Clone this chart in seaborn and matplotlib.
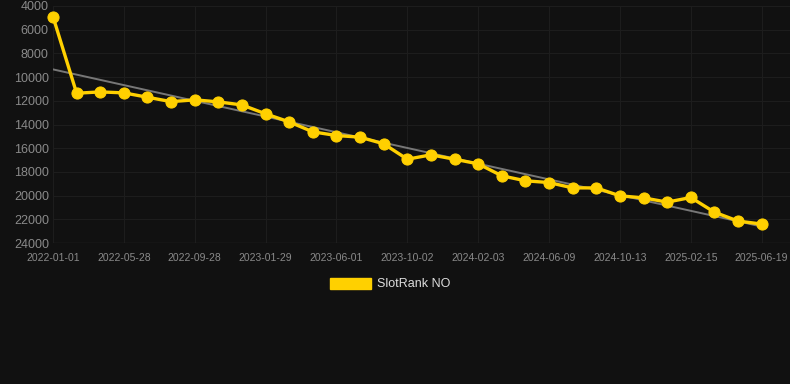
import numpy as np
import pandas as pd
import seaborn as sns
import matplotlib.pyplot as plt
from matplotlib.patches import Patch

# ---------------------- Data ------------------------
dates = [
    "2022-01-01", "2022-02-19", "2022-04-09", "2022-05-28", "2022-07-08",
    "2022-08-18", "2022-09-28", "2022-11-07", "2022-12-19", "2023-01-29",
    "2023-03-12", "2023-04-21", "2023-06-01", "2023-07-12", "2023-08-22",
    "2023-10-02", "2023-11-12", "2023-12-23", "2024-02-03", "2024-03-16",
    "2024-04-27", "2024-06-09", "2024-07-20", "2024-08-31", "2024-10-13",
    "2024-11-23", "2025-01-04", "2025-02-15", "2025-03-28", "2025-05-08",
    "2025-06-19",
]
rank = [
    4900, 11360, 11250, 11330, 11700, 12070, 11920, 12090, 12350, 13100,
    13780, 14620, 14930, 15070, 15630, 16930, 16560, 16930, 17320, 18330,
    18750, 18900, 19350, 19350, 20020, 20190, 20550, 20160, 21400, 22150,
    22400,
]
series_name = "SlotRank NO"
y_ticks = [4000, 6000, 8000, 10000, 12000, 14000, 16000, 18000, 20000, 22000, 24000]

df = pd.DataFrame({"date": dates, "rank": rank})
df["pos"] = np.arange(len(df))

# ---------------------- Style ------------------------
BG = "#111111"
YELLOW = "#FFD000"
sns.set_style("dark")
plt.rcParams["font.family"] = ["Liberation Sans", "DejaVu Sans"]

fig = plt.figure(figsize=(7.9, 3.84), dpi=100, facecolor=BG)
ax = fig.add_axes([53 / 790, (384 - 243) / 384, (790 - 53) / 790, (243 - 6) / 384])
ax.set_facecolor(BG)

# trend line
sns.regplot(data=df, x="pos", y="rank", ax=ax, scatter=False, ci=None,
            line_kws={"color": "#777777", "lw": 1.4, "zorder": 2})

sns.lineplot(data=df, x="pos", y="rank", ax=ax, color=YELLOW, lw=2.4,
             marker="o", markersize=8, markeredgecolor=YELLOW,
             zorder=3, clip_on=False)

ax.set_ylim(24000, 4000)
ax.set_xlim(0, 31.2)
ax.set_yticks(y_ticks)
ax.set_yticklabels([str(v) for v in y_ticks])
ax.set_xticks(df["pos"][::3])
ax.set_xticklabels(df["date"][::3])

ax.grid(True, color="#1d1d1d", lw=0.8)
for s in ax.spines.values():
    s.set_visible(False)
ax.axhline(24000, color="#2a2a2a", lw=1, zorder=1)

ax.tick_params(axis="y", colors="#8a8a8a", labelsize=9, length=0, pad=3)
ax.tick_params(axis="x", colors="#8a8a8a", labelsize=7.5, length=4,
               color="#2a2a2a", pad=3)
ax.set_xlabel("")
ax.set_ylabel("")

handle = Patch(facecolor=YELLOW, edgecolor=YELLOW)
leg = fig.legend([handle], [series_name], loc="center",
                 bbox_to_anchor=(390 / 790, 1 - 284 / 384),
                 frameon=False, fontsize=9, handlelength=3.3,
                 handleheight=1.0, handletextpad=0.5)
for t in leg.get_texts():
    t.set_color("#dddddd")

fig.savefig("out.png", dpi=100, facecolor=BG)
